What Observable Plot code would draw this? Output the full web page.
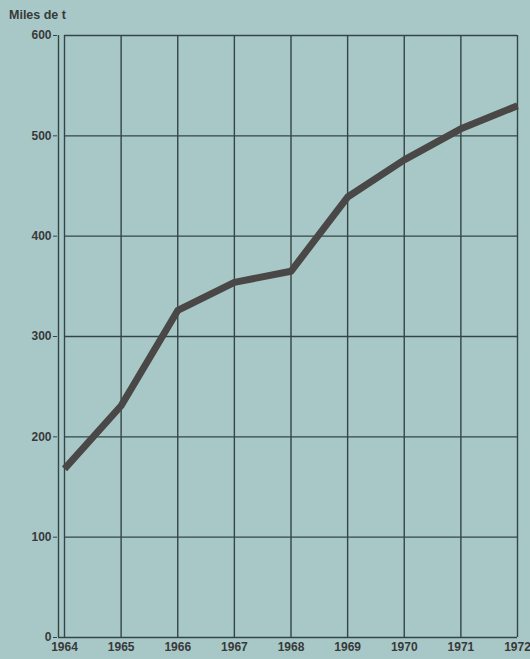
<!DOCTYPE html>
<html>
<head>
<meta charset="utf-8">
<script src="https://cdn.jsdelivr.net/npm/d3@7"></script>
<script src="https://cdn.jsdelivr.net/npm/@observablehq/plot@0.6"></script>
<style>
  html, body { margin: 0; padding: 0; background: #a8c8c7; }
  #wrap { position: relative; width: 530px; height: 659px; overflow: hidden; }
  #unit { position: absolute; left: 9px; top: 8px; font: bold 12.5px "Liberation Sans", Arial, sans-serif; color: #383a3a; }
</style>
</head>
<body>
<div id="wrap"><div id="unit">Miles de t</div></div>
<script>
const years = [1964, 1965, 1966, 1967, 1968, 1969, 1970, 1971, 1972];
const values = [168, 231, 326, 354, 365, 439, 476, 507, 530];
const yTicks = [0, 100, 200, 300, 400, 500, 600];

const data = years.map((y, i) => ({ year: y, value: values[i] }));
const gridColor = "#354444";

const chart = Plot.plot({
  width: 530,
  height: 659,
  marginLeft: 64,
  marginRight: 13,
  marginTop: 35,
  marginBottom: 22,
  style: { background: "transparent", fontFamily: "'Liberation Sans', Arial, sans-serif", fontWeight: "bold", fontSize: "12px", color: "#383a3a" },
  x: { domain: [1964, 1972] },
  y: { domain: [0, 600] },
  marks: [
    Plot.ruleX(years, { stroke: gridColor, strokeWidth: 1.4 }),
    Plot.ruleY(yTicks.filter(d => d > 0), { stroke: gridColor, strokeWidth: 1.4 }),
    Plot.ruleY([0], { stroke: gridColor, strokeWidth: 1.6, insetLeft: -6 }),
    Plot.ruleX([1964], { stroke: gridColor, strokeWidth: 1.4, dx: -6 }),
    Plot.axisY({ ticks: yTicks, tickSize: 4, dx: -7, tickPadding: 2, stroke: gridColor, fill: "#383a3a", label: null }),
    Plot.axisX({ ticks: years, tickSize: 0, tickPadding: 5, tickFormat: d => String(d), fill: "#383a3a", label: null }),
    Plot.line(data, { x: "year", y: "value", stroke: "#4a4747", strokeWidth: 7, strokeLinejoin: "round", strokeLinecap: "butt" })
  ]
});
document.getElementById("wrap").prepend(chart);
</script>
</body>
</html>
